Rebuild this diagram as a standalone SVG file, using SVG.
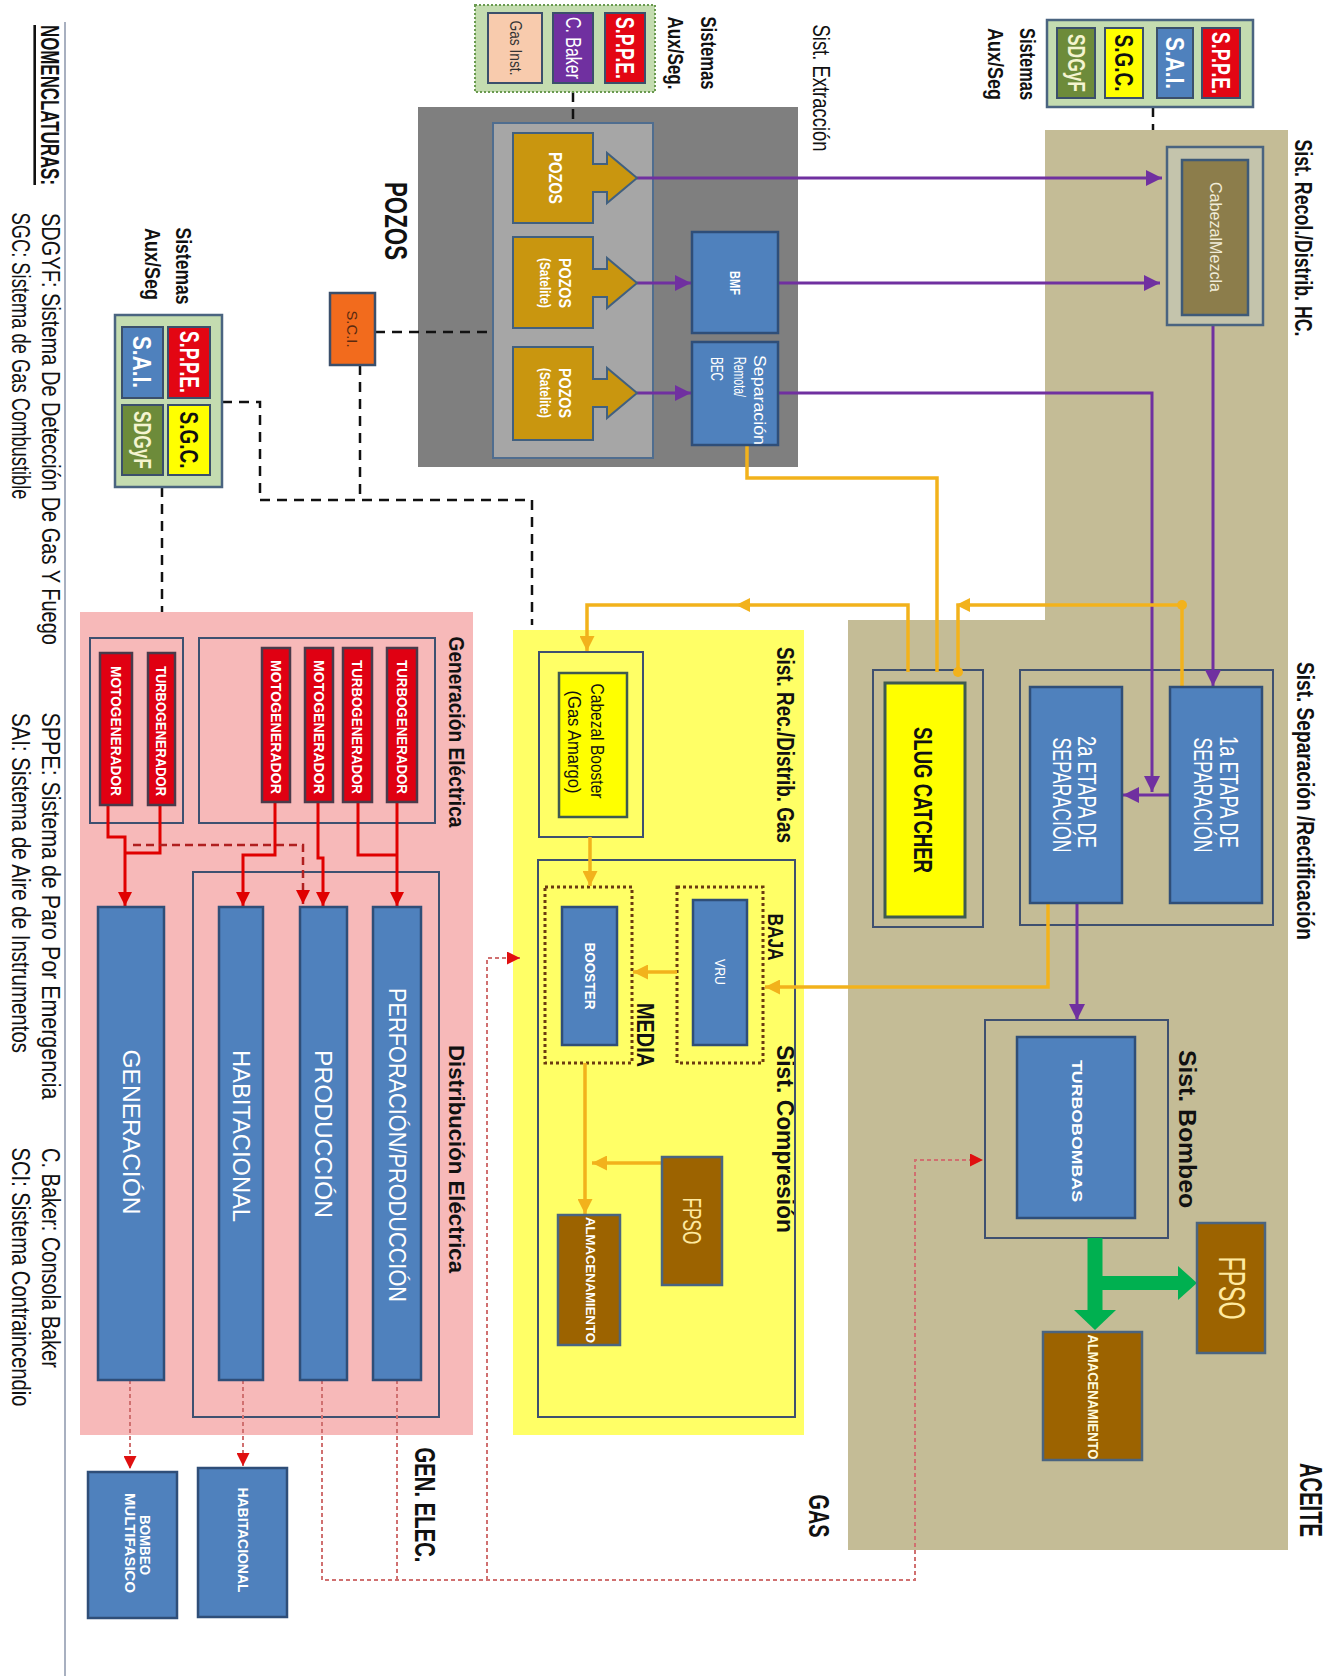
<svg xmlns="http://www.w3.org/2000/svg" width="1329" height="1676" viewBox="0 0 1329 1676">
<style>
text{font-family:"Liberation Sans",Arial,sans-serif;dominant-baseline:central;text-anchor:middle;fill:#111}
.b{font-weight:bold}
.w{fill:#fff}
.ly{fill:#ffeaa0}
.blue{fill:#4f81bd;stroke:#2f4e78;stroke-width:2.5}
.red{fill:#e00012;stroke:#4a3a4a;stroke-width:2.5}
.brn{fill:#9c6300;stroke:#4a6480;stroke-width:2.5}
.frame{fill:none;stroke:#3e5070;stroke-width:2}
.gold{fill:#c9960f;stroke:#41607f;stroke-width:2}
.bd{fill:none;stroke:#111;stroke-width:2.5;stroke-dasharray:10,7}
.pl{fill:none;stroke:#7030a0;stroke-width:3}
.gl{fill:none;stroke:#f2b21c;stroke-width:3.5}
.rl{fill:none;stroke:#e00000;stroke-width:3}
.rd{fill:none;stroke:#b02020;stroke-width:2.5;stroke-dasharray:8,5}
.rdot{fill:none;stroke:#d07070;stroke-width:2;stroke-dasharray:4,3}
.dotbox{fill:none;stroke:#6b3a10;stroke-width:3;stroke-dasharray:3,3}
</style>
<defs>
<marker id="aP" viewBox="0 0 10 10" refX="10" refY="5" markerWidth="16" markerHeight="16" markerUnits="userSpaceOnUse" orient="auto"><path d="M0,0 L10,5 L0,10 z" fill="#7030a0"/></marker>
<marker id="aG" viewBox="0 0 10 10" refX="10" refY="5" markerWidth="15" markerHeight="15" markerUnits="userSpaceOnUse" orient="auto"><path d="M0,0 L10,5 L0,10 z" fill="#f2b21c"/></marker>
<marker id="aR" viewBox="0 0 10 10" refX="10" refY="5" markerWidth="14" markerHeight="14" markerUnits="userSpaceOnUse" orient="auto"><path d="M0,0 L10,5 L0,10 z" fill="#e00000"/></marker>
<marker id="aRd" viewBox="0 0 10 10" refX="10" refY="5" markerWidth="13" markerHeight="13" markerUnits="userSpaceOnUse" orient="auto"><path d="M0,0 L10,5 L0,10 z" fill="#e01010"/></marker>
</defs>
<rect width="1329" height="1676" fill="#fff"/>

<!-- background regions -->
<g id="regions">
<path d="M1045,130 H1288 V1550 H848 V620 H1045 Z" fill="#c4bc96"/>
<rect x="513" y="630" width="291" height="805" fill="#ffff66"/>
<rect x="80" y="612" width="393" height="823" fill="#f7b9b9"/>
<rect x="418" y="107" width="380" height="360" fill="#7f7f7f"/>
<rect x="493" y="123" width="160" height="335" fill="#a6a6a6" stroke="#4f6d8f" stroke-width="2"/>
<line x1="65" y1="22" x2="65" y2="1676" stroke="#a8b0c0" stroke-width="2"/>
</g>

<!-- labels -->
<g id="labels">
<text class="b" font-size="26" text-decoration="underline" textLength="160" lengthAdjust="spacingAndGlyphs" transform="translate(50,105) rotate(90)">NOMENCLATURAS:</text>
<text font-size="25" textLength="432" lengthAdjust="spacingAndGlyphs" transform="translate(51,429) rotate(90)">SDGYF:  Sistema De Detección De Gas Y Fuego</text>
<text font-size="25" textLength="287" lengthAdjust="spacingAndGlyphs" transform="translate(21,356) rotate(90)">SGC:  Sistema de Gas Combustible</text>
<text font-size="25" textLength="387" lengthAdjust="spacingAndGlyphs" transform="translate(51,906) rotate(90)">SPPE:  Sistema de Paro Por Emergencia</text>
<text font-size="25" textLength="340" lengthAdjust="spacingAndGlyphs" transform="translate(21,883) rotate(90)">SAI:  Sistema de Aire de Instrumentos</text>
<text font-size="25" textLength="220" lengthAdjust="spacingAndGlyphs" transform="translate(51,1258) rotate(90)">C. Baker:  Consola Baker</text>
<text font-size="25" textLength="259" lengthAdjust="spacingAndGlyphs" transform="translate(21,1277) rotate(90)">SCI:  Sistema Contraincendio</text>

<text class="b" font-size="31" textLength="78" lengthAdjust="spacingAndGlyphs" transform="translate(395,221) rotate(90)">POZOS</text>
<text font-size="24" textLength="127" lengthAdjust="spacingAndGlyphs" transform="translate(821,88) rotate(90)">Sist. Extracción</text>
<text class="b" font-size="22" textLength="73" lengthAdjust="spacingAndGlyphs" transform="translate(708,53) rotate(90)">Sistemas</text>
<text class="b" font-size="22" textLength="73" lengthAdjust="spacingAndGlyphs" transform="translate(675,53) rotate(90)">Aux/Seg.</text>
<text class="b" font-size="22" textLength="72" lengthAdjust="spacingAndGlyphs" transform="translate(1027,64) rotate(90)">Sistemas</text>
<text class="b" font-size="22" textLength="72" lengthAdjust="spacingAndGlyphs" transform="translate(995,64) rotate(90)">Aux/Seg</text>
<text class="b" font-size="22" textLength="77" lengthAdjust="spacingAndGlyphs" transform="translate(183,266) rotate(90)">Sistemas</text>
<text class="b" font-size="22" textLength="72" lengthAdjust="spacingAndGlyphs" transform="translate(152,264) rotate(90)">Aux/Seg</text>
<text class="b" font-size="23" textLength="197" lengthAdjust="spacingAndGlyphs" transform="translate(1303,238) rotate(90)">Sist. Recol./Distrib. HC.</text>
<text class="b" font-size="23" textLength="278" lengthAdjust="spacingAndGlyphs" transform="translate(1305,801) rotate(90)">Sist.  Separación /Rectificación</text>
<text class="b" font-size="23" textLength="158" lengthAdjust="spacingAndGlyphs" transform="translate(1187,1129) rotate(90)">Sist. Bombeo</text>
<text class="b" font-size="31" textLength="74" lengthAdjust="spacingAndGlyphs" transform="translate(1310,1500) rotate(90)">ACEITE</text>
<text class="b" font-size="30" textLength="43" lengthAdjust="spacingAndGlyphs" transform="translate(819,1516) rotate(90)">GAS</text>
<text class="b" font-size="23" textLength="196" lengthAdjust="spacingAndGlyphs" transform="translate(785,745) rotate(90)">Sist. Rec./Distrib. Gas</text>
<text class="b" font-size="23" textLength="188" lengthAdjust="spacingAndGlyphs" transform="translate(785,1139) rotate(90)">Sist. Compresión</text>
<text class="b" font-size="22" textLength="47" lengthAdjust="spacingAndGlyphs" transform="translate(775,937) rotate(90)">BAJA</text>
<text class="b" font-size="23" textLength="64" lengthAdjust="spacingAndGlyphs" transform="translate(645,1035) rotate(90)">MEDIA</text>
<text class="b" font-size="22" textLength="191" lengthAdjust="spacingAndGlyphs" transform="translate(456,732) rotate(90)">Generación  Eléctrica</text>
<text class="b" font-size="22" textLength="228" lengthAdjust="spacingAndGlyphs" transform="translate(456,1159) rotate(90)">Distribución Eléctrica</text>
<text class="b" font-size="30" textLength="115" lengthAdjust="spacingAndGlyphs" transform="translate(425,1505) rotate(90)">GEN. ELEC.</text>
</g>

<!-- group frames -->
<g id="frames">
<rect class="frame" x="1020" y="670" width="253" height="255"/>
<rect class="frame" x="873" y="670" width="110" height="257"/>
<rect class="frame" x="985" y="1020" width="183" height="218"/>
<rect class="frame" x="538" y="860" width="257" height="557"/>
<rect class="frame" x="539" y="652" width="104" height="185"/>
<rect class="frame" x="90" y="638" width="93" height="185"/>
<rect class="frame" x="199" y="638" width="236" height="185"/>
<rect class="frame" x="193" y="872" width="246" height="545"/>
<rect class="dotbox" x="677" y="887" width="86" height="176"/>
<rect class="dotbox" x="545" y="887" width="87" height="176"/>
</g>

<!-- connectors -->
<g id="connectors">
<path class="bd" d="M375,332 H493"/>
<path class="bd" d="M360,365 V500"/>
<path class="bd" d="M222,402 H260 V500 H532 V625"/>
<path class="bd" d="M162,487 V612"/>
<path class="bd" d="M573,92 V123"/>
<path class="bd" d="M1153,107 V130"/>

<path class="pl" d="M637,178 H1162" marker-end="url(#aP)"/>
<path class="pl" d="M637,283 H691" marker-end="url(#aP)"/>
<path class="pl" d="M637,393 H691" marker-end="url(#aP)"/>
<path class="pl" d="M778,283 H1160" marker-end="url(#aP)"/>
<path class="pl" d="M778,393 H1152 V792" marker-end="url(#aP)"/>
<path class="pl" d="M1213,325 V686" marker-end="url(#aP)"/>
<path class="pl" d="M1170,795 H1123" marker-end="url(#aP)"/>
<path class="pl" d="M1077,903 V1020" marker-end="url(#aP)"/>

<path class="gl" d="M747,445 V478 H937 V672"/>
<path class="gl" d="M908,672 V605 H587 V651" marker-end="url(#aG)"/>
<polygon points="736,605 750,598 750,612" fill="#f2b21c"/>
<path class="gl" d="M1182,687 V605 H958 V672"/>
<polygon points="956,605 970,598 970,612" fill="#f2b21c"/>
<circle cx="1182" cy="605" r="5" fill="#f2b21c"/>
<circle cx="958" cy="672" r="5" fill="#f2b21c"/>
<path class="gl" d="M590,837 V886" marker-end="url(#aG)"/>
<path class="gl" d="M677,972 H633" marker-end="url(#aG)"/>
<path class="gl" d="M1048,903 V987 H765" marker-end="url(#aG)"/>
<path class="gl" d="M662,1163 H592" marker-end="url(#aG)"/>
<path class="gl" d="M585,1063 V1214" marker-end="url(#aG)"/>

<path d="M1095,1238 V1312" stroke="#00b050" stroke-width="15" fill="none"/>
<polygon points="1074,1310 1116,1310 1095,1330" fill="#00b050"/>
<path d="M1095,1283 H1180" stroke="#00b050" stroke-width="14" fill="none"/>
<polygon points="1178,1266 1178,1300 1197,1283" fill="#00b050"/>

<path class="rl" d="M108,805 V837 H125 V906" marker-end="url(#aR)"/>
<path class="rl" d="M160,805 V853 H125"/>
<path class="rd" d="M133,845 H303 V904" marker-end="url(#aR)"/>
<path class="rl" d="M275,802 V855 H243 V906" marker-end="url(#aR)"/>
<path class="rl" d="M318,802 V858 H323 V906" marker-end="url(#aR)"/>
<path class="rl" d="M358,802 V855 H397"/>
<path class="rl" d="M397,802 V906" marker-end="url(#aR)"/>

<path class="rdot" d="M130,1380 V1469" marker-end="url(#aRd)"/>
<path class="rdot" d="M243,1380 V1466" marker-end="url(#aRd)"/>
<path class="rdot" d="M322,1380 V1580 H915 V1160 H983" marker-end="url(#aRd)"/>
<path class="rdot" d="M397,1380 V1580"/>
<path class="rdot" d="M487,1580 V958 H520" marker-end="url(#aRd)"/>
</g>

<!-- nodes -->
<g id="aux-left">
<rect x="115" y="315" width="107" height="172" fill="#c4dcb0" stroke="#4a6480" stroke-width="2.5"/>
<rect x="168" y="327" width="42" height="71" fill="#e30613" stroke="#3b4f6b" stroke-width="2"/>
<rect x="122" y="327" width="41" height="71" fill="#4f81bd" stroke="#3b4f6b" stroke-width="2"/>
<rect x="168" y="405" width="42" height="70" fill="#ffff00" stroke="#3b4f6b" stroke-width="2"/>
<rect x="122" y="405" width="41" height="70" fill="#6d8b3a" stroke="#3b4f6b" stroke-width="2"/>
<text class="b w" font-size="27" textLength="62" lengthAdjust="spacingAndGlyphs" transform="translate(189,362) rotate(90)">S.P.P.E.</text>
<text class="b w" font-size="26" textLength="52" lengthAdjust="spacingAndGlyphs" transform="translate(142,362) rotate(90)">S.A.I.</text>
<text class="b" font-size="26" textLength="57" lengthAdjust="spacingAndGlyphs" transform="translate(189,440) rotate(90)">S.G.C.</text>
<text class="b" font-size="23" style="fill:#f4f4d0" textLength="58" lengthAdjust="spacingAndGlyphs" transform="translate(142,440) rotate(90)">SDGyF</text>
</g>

<g id="aux-top">
<rect x="475" y="5" width="180" height="87" fill="#c4dcb0" stroke="#6a9a50" stroke-width="2" stroke-dasharray="2,2"/>
<rect x="605" y="13" width="40" height="70" fill="#e30613" stroke="#3b4f6b" stroke-width="2"/>
<rect x="553" y="13" width="40" height="70" fill="#7030a0" stroke="#3b4f6b" stroke-width="2"/>
<rect x="488" y="13" width="54" height="70" fill="#f8cbad" stroke="#3b4f6b" stroke-width="2"/>
<text class="b w" font-size="26" textLength="62" lengthAdjust="spacingAndGlyphs" transform="translate(625,48) rotate(90)">S.P.P.E.</text>
<text class="w" font-size="22" textLength="62" lengthAdjust="spacingAndGlyphs" transform="translate(573,48) rotate(90)">C. Baker</text>
<text font-size="17" textLength="55" lengthAdjust="spacingAndGlyphs" transform="translate(515,48) rotate(90)" style="fill:#333">Gas  Inst.</text>
</g>

<g id="aux-right">
<rect x="1047" y="20" width="206" height="87" fill="#c4dcb0" stroke="#4a6480" stroke-width="2.5"/>
<rect x="1202" y="28" width="38" height="70" fill="#e30613" stroke="#3b4f6b" stroke-width="2"/>
<rect x="1157" y="28" width="36" height="70" fill="#4f81bd" stroke="#3b4f6b" stroke-width="2"/>
<rect x="1105" y="28" width="38" height="70" fill="#ffff00" stroke="#3b4f6b" stroke-width="2"/>
<rect x="1057" y="28" width="38" height="70" fill="#6d8b3a" stroke="#3b4f6b" stroke-width="2"/>
<text class="b w" font-size="26" textLength="62" lengthAdjust="spacingAndGlyphs" transform="translate(1221,63) rotate(90)">S.P.P.E.</text>
<text class="b w" font-size="25" textLength="52" lengthAdjust="spacingAndGlyphs" transform="translate(1175,63) rotate(90)">S.A.I.</text>
<text class="b" font-size="25" textLength="57" lengthAdjust="spacingAndGlyphs" transform="translate(1124,63) rotate(90)">S.G.C.</text>
<text class="b" font-size="23" style="fill:#f4f4d0" textLength="58" lengthAdjust="spacingAndGlyphs" transform="translate(1076,63) rotate(90)">SDGyF</text>
</g>

<g id="sci">
<rect x="330" y="293" width="45" height="72" fill="#f26b1d" stroke="#3b4f6b" stroke-width="2.5"/>
<text font-size="15" textLength="37" lengthAdjust="spacingAndGlyphs" transform="translate(352,329) rotate(90)" style="fill:#5a2a10">S.C.I.</text>
</g>

<g id="pozos1">
<path class="gold" d="M513,133 H593 V164 H607 V153 L637,178 L607,203 V192 H593 V223 H513 Z"/>
<text class="b w" font-size="18" textLength="52" lengthAdjust="spacingAndGlyphs" transform="translate(555,178) rotate(90)">POZOS</text>
</g>
<g id="pozos2">
<path class="gold" d="M513,237 H593 V269 H607 V258 L637,283 L607,308 V297 H593 V328 H513 Z"/>
<text class="b w" font-size="17" textLength="50" lengthAdjust="spacingAndGlyphs" transform="translate(564,283) rotate(90)">POZOS</text>
<text class="b w" font-size="15" textLength="50" lengthAdjust="spacingAndGlyphs" transform="translate(545,283) rotate(90)">(Satelite)</text>
</g>
<g id="pozos3">
<path class="gold" d="M513,347 H593 V379 H607 V368 L637,393 L607,418 V407 H593 V440 H513 Z"/>
<text class="b w" font-size="17" textLength="50" lengthAdjust="spacingAndGlyphs" transform="translate(564,393) rotate(90)">POZOS</text>
<text class="b w" font-size="15" textLength="50" lengthAdjust="spacingAndGlyphs" transform="translate(545,393) rotate(90)">(Satelite)</text>
</g>
<g id="bmf">
<rect class="blue" x="692" y="232" width="86" height="101"/>
<text class="b w" font-size="15" textLength="24" lengthAdjust="spacingAndGlyphs" transform="translate(735,283) rotate(90)">BMF</text>
</g>
<g id="sep-remota">
<rect class="blue" x="692" y="342" width="86" height="103"/>
<text class="w" font-size="16" style="text-anchor:start" textLength="90" lengthAdjust="spacingAndGlyphs" transform="translate(759,355) rotate(90)">Separación</text>
<text class="w" font-size="16" style="text-anchor:start" textLength="40" lengthAdjust="spacingAndGlyphs" transform="translate(739,357) rotate(90)">Remota/</text>
<text class="w" font-size="16" style="text-anchor:start" textLength="24" lengthAdjust="spacingAndGlyphs" transform="translate(716,357) rotate(90)">BEC</text>
</g>

<g id="cabezal-mezcla">
<rect x="1167" y="147" width="96" height="178" fill="#c4c4ac" stroke="#4a6480" stroke-width="2.5"/>
<rect x="1182" y="160" width="66" height="155" fill="#8c7d4b" stroke="#3e5a78" stroke-width="2.5"/>
<text font-size="17" style="fill:#f0ecd8" textLength="110" lengthAdjust="spacingAndGlyphs" transform="translate(1215,237) rotate(90)">CabezalMezcla</text>
</g>

<g id="etapa1">
<rect class="blue" x="1170" y="687" width="92" height="216"/>
<text class="w" font-size="26" textLength="112" lengthAdjust="spacingAndGlyphs" transform="translate(1229,792) rotate(90)">1a ETAPA DE</text>
<text class="w" font-size="26" textLength="115" lengthAdjust="spacingAndGlyphs" transform="translate(1203,795) rotate(90)">SEPARACIÓN</text>
</g>
<g id="etapa2">
<rect class="blue" x="1030" y="687" width="92" height="216"/>
<text class="w" font-size="26" textLength="112" lengthAdjust="spacingAndGlyphs" transform="translate(1087,792) rotate(90)">2a ETAPA DE</text>
<text class="w" font-size="26" textLength="115" lengthAdjust="spacingAndGlyphs" transform="translate(1062,795) rotate(90)">SEPARACIÓN</text>
</g>
<g id="slug-catcher">
<rect x="885" y="683" width="80" height="234" fill="#ffff00" stroke="#3e5a50" stroke-width="3"/>
<text class="b" font-size="25" textLength="146" lengthAdjust="spacingAndGlyphs" transform="translate(923,800) rotate(90)">SLUG CATCHER</text>
</g>
<g id="turbobombas">
<rect class="blue" x="1017" y="1037" width="118" height="181"/>
<text class="b w" font-size="15" textLength="142" lengthAdjust="spacingAndGlyphs" transform="translate(1077,1131) rotate(90)">TURBOBOMBAS</text>
</g>
<g id="fpso-aceite">
<rect class="brn" x="1197" y="1223" width="68" height="130"/>
<text class="ly" font-size="37" textLength="63" lengthAdjust="spacingAndGlyphs" transform="translate(1231,1288) rotate(90)">FPSO</text>
</g>
<g id="almac-aceite">
<rect class="brn" x="1043" y="1332" width="99" height="128"/>
<text class="b" font-size="14" style="fill:#fffadc" textLength="125" lengthAdjust="spacingAndGlyphs" transform="translate(1093,1397) rotate(90)">ALMACENAMIENTO</text>
</g>

<g id="cabezal-booster">
<rect x="559" y="673" width="68" height="144" fill="#ffff00" stroke="#3e5a50" stroke-width="2.5"/>
<text font-size="18" textLength="115" lengthAdjust="spacingAndGlyphs" transform="translate(597,741) rotate(90)">Cabezal Booster</text>
<text font-size="18" textLength="103" lengthAdjust="spacingAndGlyphs" transform="translate(574,742) rotate(90)">(Gas Amargo)</text>
</g>
<g id="vru">
<rect class="blue" x="693" y="900" width="54" height="145"/>
<text class="w" font-size="15" textLength="26" lengthAdjust="spacingAndGlyphs" transform="translate(720,972) rotate(90)">VRU</text>
</g>
<g id="booster">
<rect class="blue" x="562" y="907" width="55" height="138"/>
<text class="b w" font-size="15" textLength="67" lengthAdjust="spacingAndGlyphs" transform="translate(590,976) rotate(90)">BOOSTER</text>
</g>
<g id="fpso-gas">
<rect class="brn" x="662" y="1157" width="60" height="128"/>
<text class="ly" font-size="25" textLength="47" lengthAdjust="spacingAndGlyphs" transform="translate(692,1221) rotate(90)">FPSO</text>
</g>
<g id="almac-gas">
<rect class="brn" x="558" y="1215" width="62" height="130"/>
<text class="b w" font-size="12" textLength="126" lengthAdjust="spacingAndGlyphs" transform="translate(590,1280) rotate(90)">ALMACENAMIENTO</text>
</g>

<g id="generadores">
<rect class="red" x="100" y="653" width="32" height="152"/>
<rect class="red" x="148" y="653" width="27" height="152"/>
<rect class="red" x="262" y="648" width="28" height="154"/>
<rect class="red" x="305" y="648" width="28" height="154"/>
<rect class="red" x="343" y="648" width="29" height="154"/>
<rect class="red" x="387" y="648" width="30" height="154"/>
<text class="b w" font-size="15" textLength="130" lengthAdjust="spacingAndGlyphs" transform="translate(116,731) rotate(90)">MOTOGENERADOR</text>
<text class="b w" font-size="15" textLength="130" lengthAdjust="spacingAndGlyphs" transform="translate(161,731) rotate(90)">TURBOGENERADOR</text>
<text class="b w" font-size="15" textLength="134" lengthAdjust="spacingAndGlyphs" transform="translate(276,727) rotate(90)">MOTOGENERADOR</text>
<text class="b w" font-size="15" textLength="134" lengthAdjust="spacingAndGlyphs" transform="translate(319,727) rotate(90)">MOTOGENERADOR</text>
<text class="b w" font-size="15" textLength="134" lengthAdjust="spacingAndGlyphs" transform="translate(357,727) rotate(90)">TURBOGENERADOR</text>
<text class="b w" font-size="15" textLength="134" lengthAdjust="spacingAndGlyphs" transform="translate(402,727) rotate(90)">TURBOGENERADOR</text>
</g>

<g id="distribucion">
<rect class="blue" x="373" y="907" width="48" height="473"/>
<rect class="blue" x="300" y="907" width="47" height="473"/>
<rect class="blue" x="219" y="907" width="44" height="473"/>
<rect class="blue" x="98" y="907" width="66" height="473"/>
<text class="w" font-size="23" textLength="314" lengthAdjust="spacingAndGlyphs" transform="translate(397,1145) rotate(90)">PERFORACIÓN/PRODUCCIÓN</text>
<text class="w" font-size="23" textLength="168" lengthAdjust="spacingAndGlyphs" transform="translate(323,1134) rotate(90)">PRODUCCIÓN</text>
<text class="w" font-size="23" textLength="172" lengthAdjust="spacingAndGlyphs" transform="translate(241,1136) rotate(90)">HABITACIONAL</text>
<text class="w" font-size="23" textLength="165" lengthAdjust="spacingAndGlyphs" transform="translate(131,1132) rotate(90)">GENERACIÓN</text>
</g>

<g id="bombeo-multifasico">
<rect class="blue" x="88" y="1472" width="89" height="146"/>
<text class="b w" font-size="14" textLength="60" lengthAdjust="spacingAndGlyphs" transform="translate(145,1545) rotate(90)">BOMBEO</text>
<text class="b w" font-size="14" textLength="100" lengthAdjust="spacingAndGlyphs" transform="translate(130,1543) rotate(90)">MULTIFASICO</text>
</g>
<g id="habitacional-ext">
<rect class="blue" x="198" y="1468" width="89" height="149"/>
<text class="b w" font-size="15" textLength="105" lengthAdjust="spacingAndGlyphs" transform="translate(243,1540) rotate(90)">HABITACIONAL</text>
</g>
</svg>
